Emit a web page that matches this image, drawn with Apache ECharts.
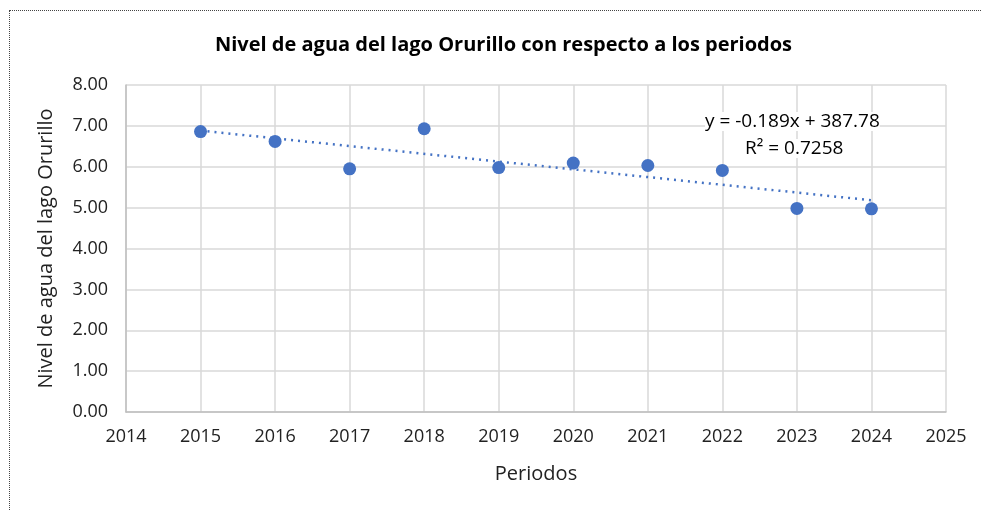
<!DOCTYPE html>
<html lang="es">
<head>
    <meta charset="UTF-8">
    <title>Nivel de agua del lago Orurillo</title>
    <style>
        body { margin: 0; background: #fff; }
        #frame { position: absolute; left: 9px; top: 10px; width: 1100px; height: 700px; border: 1px dotted #444; }
        #chart { position: absolute; left: 0; top: 0; width: 981px; height: 511px; }
    </style>
</head>
<body>
    <div id="frame"></div>
    <div id="chart"></div>
    <script src="https://cdn.jsdelivr.net/npm/echarts@6/dist/echarts.min.js"></script>
    <script>
        // data
        const periods = [2015, 2016, 2017, 2018, 2019, 2020, 2021, 2022, 2023, 2024];
        const levels = [6.86, 6.62, 5.95, 6.93, 5.98, 6.09, 6.03, 5.91, 4.98, 4.97];
        const equationText = 'y = -0.189x + 387.78';
        const r2Text = 'R² = 0.7258';

        // least squares trend line from the data
        const n = periods.length;
        const mx = periods.reduce((a, b) => a + b, 0) / n;
        const my = levels.reduce((a, b) => a + b, 0) / n;
        let sxy = 0, sxx = 0;
        periods.forEach((x, i) => { sxy += (x - mx) * (levels[i] - my); sxx += (x - mx) * (x - mx); });
        const slope = sxy / sxx;
        const trend = [periods[0], periods[n - 1]].map(x => [x, my + slope * (x - mx)]);

        const font = '"Open Sans", sans-serif';
        const chart = echarts.init(document.getElementById('chart'));
        chart.setOption({
            animation: false,
            title: {
                text: 'Nivel de agua del lago Orurillo con respecto a los periodos',
                left: 210, top: 30,
                textStyle: { fontFamily: font, fontSize: 20, fontWeight: 'bold', color: '#000' }
            },
            grid: { left: 126, right: 35, top: 85, bottom: 99 },
            xAxis: {
                type: 'value', min: 2014, max: 2025, interval: 1,
                name: 'Periodos', nameLocation: 'middle', nameGap: 52,
                nameTextStyle: { fontFamily: font, fontSize: 20, color: '#222' },
                axisLine: { lineStyle: { color: '#bfbfbf', width: 1.5 } },
                axisTick: { show: false },
                axisLabel: { fontFamily: font, fontSize: 18, color: '#222', margin: 16,
                    formatter: v => String(v) },
                splitLine: { lineStyle: { color: '#d9d9d9', width: 1.5 } }
            },
            yAxis: {
                type: 'value', min: 0, max: 8, interval: 1,
                name: 'Nivel de agua del lago Orurillo', nameLocation: 'middle', nameGap: 70,
                nameTextStyle: { fontFamily: font, fontSize: 20, color: '#222' },
                axisLine: { show: true, lineStyle: { color: '#bfbfbf', width: 1.5 } },
                axisTick: { show: false },
                axisLabel: { fontFamily: font, fontSize: 18, color: '#222', margin: 18,
                    formatter: v => v.toFixed(2) },
                splitLine: { lineStyle: { color: '#d9d9d9', width: 1.5 } }
            },
            series: [
                {
                    type: 'line', data: trend, symbol: 'none', silent: true,
                    lineStyle: { color: '#4472C4', width: 2.5, type: [2, 5] },
                    z: 1
                },
                {
                    type: 'scatter', symbolSize: 13,
                    data: periods.map((x, i) => [x, levels[i]]),
                    itemStyle: { color: '#4472C4', opacity: 1 },
                    z: 2
                }
            ],
            graphic: [
                { type: 'text', left: 705, top: 112, z: 10,
                  style: { text: equationText, fontFamily: font, fontSize: 19, fill: '#000',
                           backgroundColor: '#fff' } },
                { type: 'text', left: 745, top: 139, z: 10,
                  style: { text: r2Text, fontFamily: font, fontSize: 19, fill: '#000',
                           backgroundColor: '#fff' } }
            ]
        });
    </script>
</body>
</html>
